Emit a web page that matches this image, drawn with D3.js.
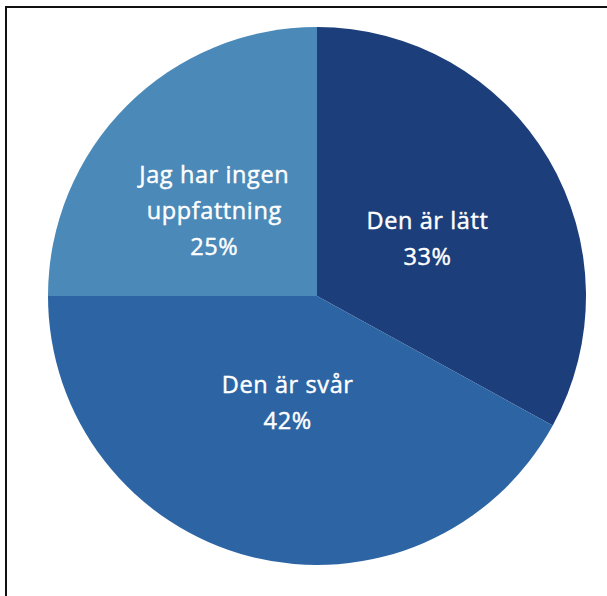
<!DOCTYPE html>
<html>
<head>
<meta charset="utf-8">
<script src="https://cdn.jsdelivr.net/npm/d3@7"></script>
<style>
  body { margin: 0; background: #fff; }
  svg text { font-family: "Open Sans", Lato, sans-serif; fill: #fff; stroke: #fff; stroke-width: 0.45px; letter-spacing: 0.6px; }
</style>
</head>
<body>
<div id="chart"></div>
<script>
// Pie chart data
const categories = ["Den är lätt", "Den är svår", "Jag har ingen uppfattning"];
const shares = [33, 42, 25];
const labelLines = [["Den är lätt"], ["Den är svår"], ["Jag har ingen", "uppfattning"]];
const colors = ["#1c3e7a", "#2d65a4", "#4a89b8"];
// distance of each label from the centre, plus a small nudge
const labelRadius = [126, 110, 134];
const labelNudge = [[2, 7], [-2, 0], [-8, 10]];

const svgWidth = 607;
const svgHeight = 596;
const cx = 317, cy = 296, radius = 269;

const svg = d3.select("#chart")
	.append("svg")
	.attr("width", svgWidth)
	.attr("height", svgHeight);

// frame around the chart (cut off on right and bottom)
svg.append("rect")
	.attr("x", 6)
	.attr("y", 7)
	.attr("width", 640)
	.attr("height", 640)
	.attr("fill", "none")
	.attr("stroke", "#111")
	.attr("stroke-width", 2);

const pieGroup = svg.append("g")
	.attr("transform", `translate(${cx}, ${cy})`);

const pie = d3.pie().sort(null).value(d => d);
const arcs = pie(shares);

const arc = d3.arc().innerRadius(0).outerRadius(radius);

pieGroup.selectAll("path.slice")
	.data(arcs)
	.enter()
	.append("path")
	.classed("slice", true)
	.attr("d", arc)
	.attr("fill", (d, i) => colors[i]);

const lineHeight = 36;

const labels = pieGroup.selectAll("text.sliceLabel")
	.data(arcs)
	.enter()
	.append("text")
	.classed("sliceLabel", true)
	.attr("text-anchor", "middle")
	.attr("font-size", 23.5)
	.attr("transform", (d, i) => {
		const r = labelRadius[i];
		const [x, y] = d3.arc().innerRadius(r).outerRadius(r).centroid(d);
		return `translate(${x + labelNudge[i][0]}, ${y + labelNudge[i][1]})`;
	});

labels.each(function(d, i) {
	const lines = labelLines[i].concat([shares[i] + "%"]);
	const top = -(lines.length - 1) * lineHeight / 2;
	d3.select(this).selectAll("tspan")
		.data(lines)
		.enter()
		.append("tspan")
		.attr("x", 0)
		.attr("y", (l, j) => top + j * lineHeight)
		.attr("dy", "0.35em")
		.text(l => l);
});
</script>
</body>
</html>
